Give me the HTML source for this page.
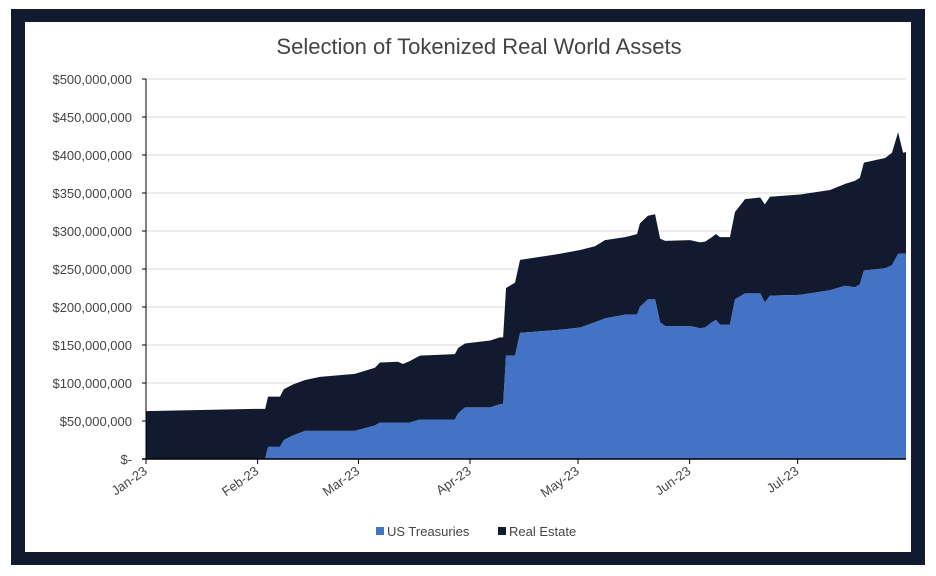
<!DOCTYPE html>
<html><head><meta charset="utf-8"><style>
body{margin:0;background:#fff;}
svg{display:block;font-family:"Liberation Sans",sans-serif;}
</style></head><body>
<svg width="936" height="576" xmlns="http://www.w3.org/2000/svg">
<rect x="11" y="9" width="914" height="556" fill="#111a2e"/>
<rect x="25" y="22" width="886" height="530" fill="#fff"/>
<text x="479" y="54" text-anchor="middle" font-size="22" fill="#444">Selection of Tokenized Real World Assets</text>
<g id="grid"></g>
<g id="areas"></g>
<g id="axes"></g>
<g>
<rect x="376" y="527" width="8" height="8" fill="#4472c4"/>
<text x="387" y="536" font-size="13" fill="#444">US Treasuries</text>
<rect x="498" y="527" width="8" height="8" fill="#111a2e"/>
<text x="509" y="536" font-size="13" fill="#444">Real Estate</text>
</g>
</svg>
<script>
const days=[0,31.1,33.1,33.9,37.2,38.3,40.8,44.2,48.3,58,63.6,65,70,71.4,73.3,76.1,85.8,86.7,88.6,95.6,98.3,99.2,100,102.5,103.9,115,120.6,124.7,127.5,133.1,136.4,137.2,139.4,141.4,142.8,144.2,151.1,153.9,155.3,157.2,158.3,159.4,162.2,163.6,166.4,170.6,171.9,173.3,181.7,190,194.2,196.9,198.3,199.4,205.3,207.2,208.9,210.3,211.1];
const treasuries=[0,0,0,16,16,25,31,37,37,37,44,48,48,48,48,52,52,60,68,68,72,72,136,136,166,170,173,180,185,190,190,200,210,210,180,175,175,172,173,180,183,177,177,210,218,218,206,215,216,222,228,226,230,248,251,255,270,270,270];
const realEstate=[63,66,66,66,66,67,67,67,71,75,76,79,80,77,81,84,86,86,84,88,88,88,89,96,96,100,102,100,103,102,106,110,110,112,110,112,113,113,113,112,113,115,115,115,124,126,129,130,132,132,134,140,140,142,145,148,160,133,134];
const yTicks=[0,50,100,150,200,250,300,350,400,450,500];
const yLabels=["$-","$50,000,000","$100,000,000","$150,000,000","$200,000,000","$250,000,000","$300,000,000","$350,000,000","$400,000,000","$450,000,000","$500,000,000"];
const monthDays=[0,31,59,90,120,151,181];
const monthLabels=["Jan-23","Feb-23","Mar-23","Apr-23","May-23","Jun-23","Jul-23"];
const X0=146,X1=906,Y0=459,Y1=79;
const xs=d=>X0+d/211.1*(X1-X0);
const ys=v=>Y0-v/500*(Y0-Y1);
const NS="http://www.w3.org/2000/svg";
function mk(tag,attrs,parent){const e=document.createElementNS(NS,tag);for(const k in attrs)e.setAttribute(k,attrs[k]);parent.appendChild(e);return e;}
const grid=document.getElementById('grid'),areas=document.getElementById('areas'),axes=document.getElementById('axes');
yTicks.forEach((v,i)=>{
 if(i>0){const l=mk('line',{x1:X0,x2:X1,y1:ys(v),y2:ys(v),stroke:'#d9d9d9','stroke-width':1},grid);
 
 }
 const t=mk('line',{x1:X0-4,x2:X0,y1:ys(v),y2:ys(v),stroke:'#000'},axes);
 
 
 const tx=mk('text',{x:132,y:ys(v)+5,'text-anchor':'end','font-size':13,fill:'#444'},axes);
 tx.textContent=yLabels[i];
 
 
});
const topPts=days.map((d,i)=>xs(d)+','+ys(treasuries[i]+realEstate[i])).join(' ');
const midPts=days.map((d,i)=>xs(d)+','+ys(treasuries[i]));
const midRev=midPts.slice().reverse().join(' ');
const re=mk('polygon',{points:topPts+' '+midRev,fill:'#111a2e'},areas);


const tr=mk('polygon',{points:midPts.join(' ')+' '+xs(days[days.length-1])+','+Y0+' '+xs(0)+','+Y0,fill:'#4472c4'},areas);


const ax=mk('line',{x1:X0-4,x2:X1,y1:Y0,y2:Y0,stroke:'#000','stroke-width':1.5},axes);


const ay=mk('line',{x1:X0,x2:X0,y1:Y1,y2:Y0,stroke:'#000'},axes);


monthDays.forEach((d,i)=>{
 const x=xs(d);
 const t=mk('line',{x1:x,x2:x,y1:Y0,y2:Y0+5,stroke:'#000'},axes);
 
 
 const tx=mk('text',{x:x+2,y:Y0+14,'text-anchor':'end','font-size':13,fill:'#444',transform:'rotate(-35 '+(x+2)+' '+(Y0+14)+')'},axes);
 tx.textContent=monthLabels[i];
 
 
});
</script>
</body></html>
